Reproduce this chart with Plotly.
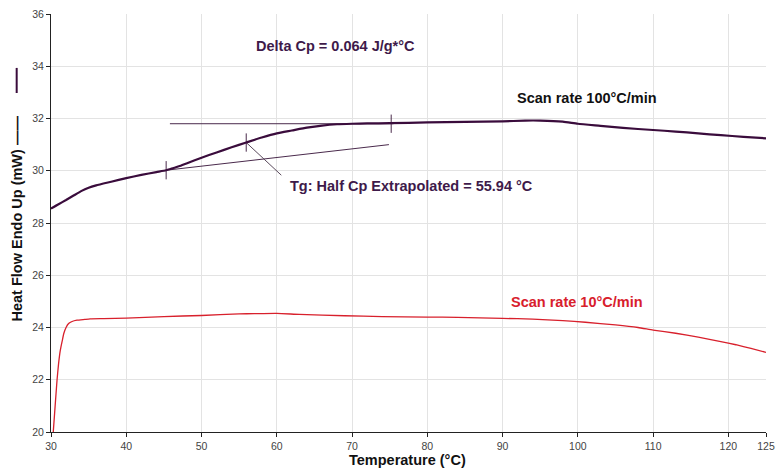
import plotly.graph_objects as go

# ---- data ----
temp_100 = [30, 31, 32, 33, 34, 35, 36, 38, 40, 42, 44, 45.3, 46, 47, 48, 50, 52, 54, 55.94, 58, 60,
            62, 64, 66, 68, 70, 72, 75, 80, 85, 90, 93, 95, 98, 100, 103, 106, 110, 113, 116, 119,
            122, 125]
hf_100 = [28.55, 28.72, 28.88, 29.05, 29.22, 29.35, 29.44, 29.58, 29.72, 29.84, 29.95, 30.02, 30.08,
          30.17, 30.28, 30.5, 30.7, 30.9, 31.08, 31.27, 31.43, 31.54, 31.65, 31.73, 31.78, 31.8,
          31.81, 31.82, 31.85, 31.87, 31.89, 31.92, 31.92, 31.88, 31.8, 31.72, 31.64, 31.56, 31.5,
          31.43, 31.36, 31.3, 31.24]

temp_10 = [30.3, 30.55, 30.8, 31.0, 31.24, 31.5, 31.7, 32.0, 32.34, 32.8, 33.45, 34.5, 35.2, 37, 40,
           45, 50, 55, 57, 60, 63, 69, 74, 80, 84, 90, 94, 98, 101, 105, 108, 110, 113, 116, 119,
           121, 123, 125]
hf_10 = [20.0, 21.0, 21.98, 22.6, 23.13, 23.5, 23.77, 24.0, 24.15, 24.23, 24.28, 24.31, 24.33, 24.34,
         24.36, 24.42, 24.46, 24.52, 24.53, 24.54, 24.5, 24.45, 24.42, 24.4, 24.39, 24.35, 24.32,
         24.26, 24.2, 24.1, 24.0, 23.9, 23.78, 23.63, 23.46, 23.34, 23.2, 23.05]

# Tg analysis construction
onset_line_x = [45.3, 74.9]
onset_line_y = [30.02, 31.0]
end_line_x = [45.8, 75.5]
end_line_y = [31.8, 31.8]
mark_x = [45.3, 55.94, 75.2]
mark_y = [30.02, 31.08, 31.8]
mark_half = 0.35
leader_x = [55.94, 60.6]
leader_y = [31.08, 29.83]

x_ticks = [30, 40, 50, 60, 70, 80, 90, 100, 110, 120, 125]
y_ticks = [20, 22, 24, 26, 28, 30, 32, 34, 36]

PURPLE = "#3a0c3c"
TXT_PURPLE = "#3e1a4a"
RED = "#d8202c"
FONT = "Liberation Sans"
LBL = 14.5

fig = go.Figure()

fig.add_trace(go.Scatter(x=onset_line_x, y=onset_line_y, mode="lines",
                         line=dict(color="#4a2a4c", width=1), hoverinfo="skip"))
fig.add_trace(go.Scatter(x=end_line_x, y=end_line_y, mode="lines",
                         line=dict(color="#4a2a4c", width=1), hoverinfo="skip"))
fig.add_trace(go.Scatter(x=leader_x, y=leader_y, mode="lines",
                         line=dict(color="#5a4a5c", width=1), hoverinfo="skip"))

mx, my = [], []
for xv, yv in zip(mark_x, mark_y):
    mx += [xv, xv, None]
    my += [yv - mark_half, yv + mark_half, None]
fig.add_trace(go.Scatter(x=mx, y=my, mode="lines",
                         line=dict(color="#4a2a4c", width=1), hoverinfo="skip"))

fig.add_trace(go.Scatter(x=temp_100, y=hf_100, mode="lines",
                         line=dict(color=PURPLE, width=2.2, shape="spline", smoothing=0.5)))
fig.add_trace(go.Scatter(x=temp_10, y=hf_10, mode="lines",
                         line=dict(color=RED, width=1.3, shape="spline", smoothing=0.5)))

annots = [
    dict(x=67.8, y=34.77, text="Delta Cp = 0.064 J/g*°C", color=TXT_PURPLE, xanchor="center"),
    dict(x=101.2, y=32.77, text="Scan rate 100°C/min", color="#111111", xanchor="center"),
    dict(x=99.85, y=24.98, text="Scan rate 10°C/min", color=RED, xanchor="center"),
    dict(x=61.5, y=29.4, text="Tg: Half Cp Extrapolated = 55.94 °C", color=TXT_PURPLE, xanchor="left"),
]
for a in annots:
    fig.add_annotation(x=a["x"], y=a["y"], text="<b>%s</b>" % a["text"], showarrow=False,
                       xanchor=a["xanchor"], yanchor="middle",
                       font=dict(family=FONT, size=LBL, color=a["color"]))

# axis titles
fig.add_annotation(x=0.499, y=-0.068, xref="paper", yref="paper", text="<b>Temperature (°C)</b>",
                   showarrow=False, xanchor="center", yanchor="middle",
                   font=dict(family=FONT, size=LBL, color="#111111"))
fig.add_annotation(x=-0.048, y=0.51, xref="paper", yref="paper",
                   text="<b>Heat Flow Endo Up (mW) ——</b>", textangle=-90,
                   showarrow=False, xanchor="center", yanchor="middle",
                   font=dict(family=FONT, size=LBL, color="#111111"))
fig.add_shape(type="line", xref="paper", yref="paper", x0=-0.048, x1=-0.048, y0=0.811, y1=0.871,
              line=dict(color=PURPLE, width=2))

fig.update_layout(
    width=776, height=468,
    margin=dict(l=51, r=10, t=14, b=36, autoexpand=False),
    paper_bgcolor="white", plot_bgcolor="white",
    showlegend=False,
    font=dict(family=FONT, size=10, color="#444444"),
)
fig.update_xaxes(range=[30, 125], tickvals=x_ticks, ticktext=[str(v) for v in x_ticks],
                 automargin=False,
                 showgrid=True, gridcolor="#e3e3e3", gridwidth=1,
                 showline=True, linecolor="#222222", linewidth=1,
                 ticks="outside", ticklen=4, tickcolor="#222222",
                 zeroline=False, tickfont=dict(family=FONT, size=10.5, color="#444444"))
fig.update_yaxes(range=[20, 36], tickvals=y_ticks, ticktext=[str(v) for v in y_ticks],
                 automargin=False,
                 showgrid=True, gridcolor="#e3e3e3", gridwidth=1,
                 showline=True, linecolor="#222222", linewidth=1,
                 ticks="outside", ticklen=4, tickcolor="#222222",
                 zeroline=False, tickfont=dict(family=FONT, size=10.5, color="#444444"))

fig.write_html("out.html", config={"displayModeBar": False},
               post_script="document.body.style.margin='0px';document.body.style.overflow='hidden';")
